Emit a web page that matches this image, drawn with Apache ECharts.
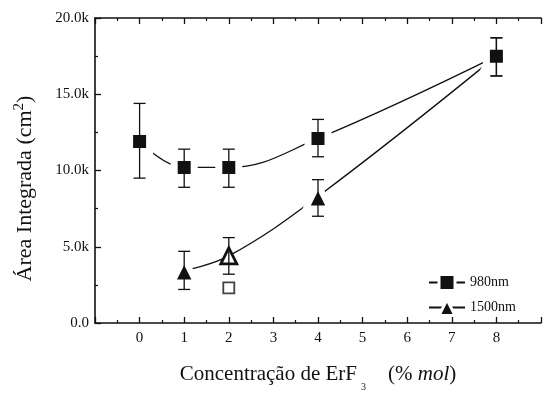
<!DOCTYPE html>
<html>
<head>
<meta charset="utf-8">
<script src="https://cdn.jsdelivr.net/npm/echarts@6/dist/echarts.min.js"></script>
<style>
  html, body { margin: 0; padding: 0; background: #fff; }
  #chart { width: 544px; height: 397px; }
</style>
</head>
<body>
<div id="chart"></div>
<script>
// ErF3 concentration (% mol)
const conc980 = [0, 1, 2, 4, 8];
const area980 = [11900, 10200, 10200, 12100, 17500];
const err980Low = [9500, 8900, 8900, 10900, 16200];
const err980High = [14400, 11400, 11400, 13350, 18700];

const conc1500 = [1, 2, 4, 8];
const area1500 = [3450, 4400, 8300, 17500];
const err1500Low = [2200, 3200, 7000, 16200];
const err1500High = [4700, 5600, 9400, 18700];

// single open square reading at 2 % mol
const extraConc = [2];
const extraArea = [2300];

// x tick labels shown (others hidden)
const xTickLabels = ['0', '1', '2', '3', '4', '5', '6', '7', '8'];
const yTickLabels = ['0.0', '5.0k', '10.0k', '15.0k', '20.0k'];

const FONT = 'Liberation Serif';
const INK = '#111';

function pairs(xs, ys) { return xs.map((x, i) => [x, ys[i]]); }
function errData(xs, lo, hi) { return xs.map((x, i) => [x, lo[i], hi[i]]); }

function errorBarRender(params, api) {
  const x = api.value(0);
  const lo = api.coord([x, api.value(1)]);
  const hi = api.coord([x, api.value(2)]);
  const half = 6;
  const style = { stroke: INK, lineWidth: 1.3 };
  return {
    type: 'group',
    children: [
      { type: 'line', shape: { x1: lo[0], y1: lo[1], x2: hi[0], y2: hi[1] }, style },
      { type: 'line', shape: { x1: lo[0] - half, y1: lo[1], x2: lo[0] + half, y2: lo[1] }, style },
      { type: 'line', shape: { x1: hi[0] - half, y1: hi[1], x2: hi[0] + half, y2: hi[1] }, style }
    ]
  };
}

const tri = pairs(conc1500, area1500).map((p, i) => {
  if (conc1500[i] === 2) {
    return { value: p, symbolSize: 16, itemStyle: { color: '#fff', borderColor: INK, borderWidth: 2.8 } };
  }
  return p;
});

const axisCommon = {
  type: 'value',
  min: -1, max: 9, interval: 1,
  axisLine: { show: true, onZero: false, lineStyle: { color: INK, width: 1.6 } },
  axisTick: { show: true, inside: true, length: 6, lineStyle: { color: INK, width: 1.3 } },
  minorTick: { show: true, splitNumber: 2, length: 3, lineStyle: { color: INK, width: 1.2 } },
  splitLine: { show: false },
  minorSplitLine: { show: false }
};

const chart = echarts.init(document.getElementById('chart'), null, { renderer: 'canvas' });
chart.setOption({
  backgroundColor: '#fff',
  animation: false,
  grid: { left: 95, right: -8, top: 18, bottom: 63, containLabel: false },
  legend: {
    orient: 'vertical',
    left: 423, top: 268,
    itemWidth: 36, itemHeight: 20, itemGap: 6,
    itemStyle: { borderColor: '#fff', borderWidth: 3 },
    textStyle: { fontFamily: FONT, fontSize: 14, color: INK, padding: [0, 0, 0, 0] },
    data: ['980nm', '1500nm']
  },
  xAxis: [
    Object.assign({}, axisCommon, {
      position: 'bottom',
      axisLabel: {
        margin: 8,
        fontFamily: FONT, fontSize: 15, color: INK,
        formatter: v => xTickLabels.includes(String(v)) ? String(v) : ''
      },
      name: 'Concentração de ErF{sub|3}(% {it|mol})',
      nameLocation: 'middle',
      nameGap: 33,
      nameTextStyle: {
        fontFamily: FONT, fontSize: 21, color: INK,
        rich: {
          sub: { fontFamily: FONT, fontSize: 10, color: INK, padding: [26, 22, 0, 4] },
          it: { fontFamily: FONT, fontSize: 21, fontStyle: 'italic', color: INK }
        }
      }
    }),
    Object.assign({}, axisCommon, {
      position: 'top',
      axisLabel: { show: false }
    })
  ],
  yAxis: {
    type: 'value',
    min: 0, max: 20000, interval: 5000,
    axisLine: { show: true, onZero: false, lineStyle: { color: INK, width: 1.6 } },
    axisTick: { show: true, inside: true, length: 6, lineStyle: { color: INK, width: 1.3 } },
    minorTick: { show: true, splitNumber: 2, length: 3, lineStyle: { color: INK, width: 1.2 } },
    splitLine: { show: false },
    axisLabel: {
      margin: 6,
      fontFamily: FONT, fontSize: 15, color: INK,
      formatter: v => yTickLabels[Math.round(v / 5000)]
    },
    name: 'Área Integrada (cm{sup|2})',
    nameLocation: 'middle',
    nameGap: 56,
    nameTextStyle: {
      fontFamily: FONT, fontSize: 22, color: INK,
      padding: [0, 36, 0, 0],
      rich: { sup: { fontFamily: FONT, fontSize: 15, color: INK, padding: [0, 0, 12, 0] } }
    }
  },
  series: [
    {
      name: '980nm',
      type: 'line',
      data: pairs(conc980, area980),
      smooth: 0.4,
      symbol: 'rect',
      symbolSize: 20,
      lineStyle: { color: INK, width: 1.3 },
      itemStyle: { color: INK, borderColor: '#fff', borderWidth: 7 },
      z: 3
    },
    {
      name: '1500nm',
      type: 'line',
      data: tri,
      smooth: 0.4,
      symbol: 'triangle',
      symbolSize: 24,
      lineStyle: { color: INK, width: 1.3 },
      itemStyle: { color: INK, borderColor: '#fff', borderWidth: 6 },
      z: 2
    },
    {
      name: 'open',
      type: 'scatter',
      data: pairs(extraConc, extraArea),
      symbol: 'rect',
      symbolSize: 11,
      itemStyle: { color: '#fff', borderColor: INK, borderWidth: 1.8 },
      z: 4
    },
    {
      type: 'custom',
      data: errData(conc980, err980Low, err980High),
      renderItem: errorBarRender,
      encode: { x: 0, y: [1, 2] },
      z: 5
    },
    {
      type: 'custom',
      data: errData(conc1500, err1500Low, err1500High),
      renderItem: errorBarRender,
      encode: { x: 0, y: [1, 2] },
      z: 5
    }
  ]
});
</script>
</body>
</html>
